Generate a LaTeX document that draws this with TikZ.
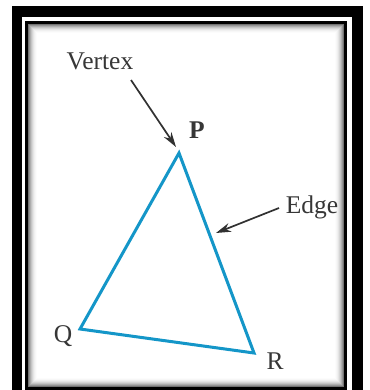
\documentclass[tikz,border=0pt]{standalone}
\usepackage{fontspec}
\setmainfont{Liberation Serif}
\usetikzlibrary{arrows.meta}
\definecolor{triblue}{RGB}{20,150,200}
\definecolor{txtgray}{RGB}{55,55,55}
\tikzset{
  lbl/.style={text=txtgray, font=\fontsize{25.5}{30}\selectfont, inner sep=0pt},
  pointer/.style={draw=txtgray!90!black, line width=1.7pt, -{Stealth[length=15pt,width=9pt]}},
  edgeline/.style={draw=triblue, line width=3pt, line join=miter}
}
\begin{document}
\begin{tikzpicture}[x=1pt,y=-1pt]
\useasboundingbox (0,0) rectangle (369,390);
% frame
\fill[black] (12,6) rectangle (363,390);
\fill[white] (22,17) rectangle (352,390);
\fill[black] (25,21) rectangle (347,390);
\fill[white] (28,24) rectangle (344,387);
\foreach \i/\g in {0/55,1/42,2/32,3/23,4/16,5/10,6/6,7/3,8/1}{
  \draw[black!\g, line width=1pt] (28.5+\i,24.5+\i) rectangle (343.5-\i,386.5-\i);
}
% triangle
\coordinate (P) at (179,153);
\coordinate (Q) at (80,329);
\coordinate (R) at (254,353);
\draw[edgeline] (P) -- (Q) -- (R) -- cycle;
% labels
\node[lbl] (vertex) at (100,61) {Vertex};
\node[lbl, font=\fontsize{25.5}{30}\selectfont\bfseries] (plbl) at (197,130) {P};
\node[lbl] (edge) at (312,207) {Edge};
\node[lbl] (qlbl) at (63,336) {Q};
\node[lbl] (rlbl) at (275,361) {R};
% pointers
\coordinate (vstart) at (131,80);
\coordinate (vtip) at (176,147);
\coordinate (estart) at (279,208);
\coordinate (etip) at (216,233);
\draw[pointer] (vstart) -- (vtip);
\draw[pointer] (estart) -- (etip);
\end{tikzpicture}
\end{document}
